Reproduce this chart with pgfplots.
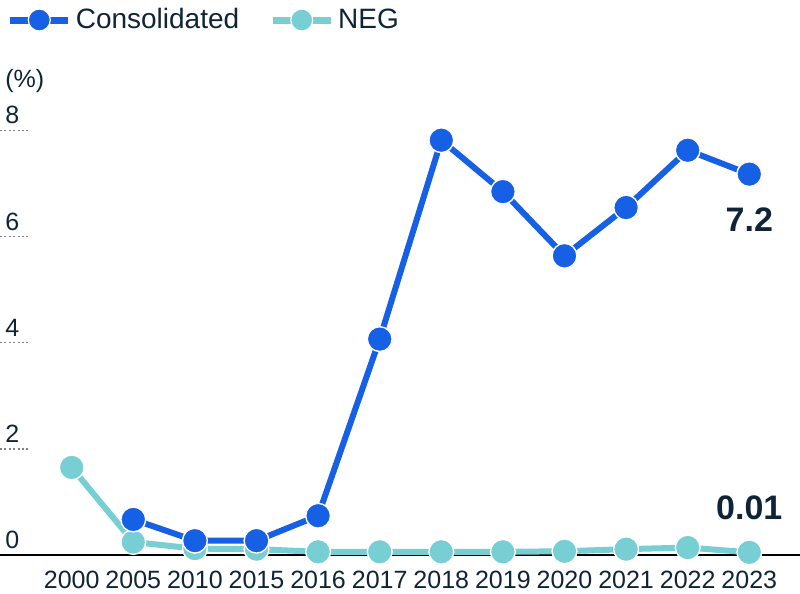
\documentclass[border=0pt]{standalone}
\usepackage{pgfplots}
\pgfplotsset{compat=1.18}
\usepackage{fontspec}
\setmainfont{Liberation Sans}
\definecolor{cblue}{HTML}{1660E5}
\definecolor{cteal}{HTML}{77CED3}
\definecolor{ctext}{HTML}{0F2537}
\begin{document}
\begin{tikzpicture}
\useasboundingbox (0pt,-19.5pt) rectangle (400pt,277.5pt);
\begin{axis}[
  at={(0pt,0pt)}, anchor=south west,
  scale only axis, width=400pt, height=228.1pt,
  xmin=-1.164, xmax=11.823, ymin=0, ymax=8.6,
  clip=false,
  axis x line=bottom, axis y line=left,
  x axis line style={-, black, line width=1.3pt},
  y axis line style={draw=none},
  xtick={0,...,11},
  xticklabels={2000,2005,2010,2015,2016,2017,2018,2019,2020,2021,2022,2023},
  xtick style={draw=none},
  ytick={0,2,4,6,8},
  ytick style={draw=gray, line width=0.6pt, dash pattern=on 1pt off 1.2pt},
  major tick length=14pt, tick align=inside,
  yticklabel style={anchor=south west, inner sep=0pt, xshift=2.5pt, yshift=3pt, font=\fontsize{12.5}{14}\selectfont, text=ctext},
  xticklabel style={font=\fontsize{12.5}{14}\selectfont, text=ctext, yshift=-4.5pt},
  /pgf/number format/assume math mode=true,
  legend columns=2,
  legend style={at={(0.008,1.1727)}, anchor=west, draw=none, fill=none, inner sep=0pt,
    font=\fontsize{14}{16}\selectfont, text=ctext,
    /tikz/every even column/.append style={column sep=13pt}},
  legend cell align=left,
  legend image code/.code={\draw[mark repeat=2,mark phase=2,#1] plot coordinates {(0pt,0pt) (14.5pt,0pt) (29pt,0pt)};},
]
\addlegendimage{cblue, line width=3.5pt, mark=*, mark size=5.5pt, mark options={fill=cblue, draw=white, line width=0.6pt}}
\addlegendentry{Consolidated}
\addlegendimage{cteal, line width=3.5pt, mark=*, mark size=5.5pt, mark options={fill=cteal, draw=white, line width=0.6pt}}
\addlegendentry{NEG}
\addplot[forget plot, cteal, line width=3pt, mark=*, mark size=6.2pt, mark options={fill=cteal, draw=white, line width=0.7pt}]
coordinates {(0,1.65) (1,0.245) (2,0.12) (3,0.11) (4,0.06) (5,0.06) (6,0.06) (7,0.06) (8,0.07) (9,0.11) (10,0.14) (11,0.05)};
\addplot[forget plot, cblue, line width=3pt, mark=*, mark size=6.2pt, mark options={fill=cblue, draw=white, line width=0.7pt}]
coordinates {(1,0.67) (2,0.27) (3,0.27) (4,0.74) (5,4.07) (6,7.82) (7,6.85) (8,5.64) (9,6.55) (10,7.63) (11,7.18)};
\node[anchor=base, inner sep=0pt, text=ctext, font=\bfseries\fontsize{17}{19}\selectfont] at (axis cs:11,6.09) {7.2};
\node[anchor=base, inner sep=0pt, text=ctext, font=\bfseries\fontsize{17}{19}\selectfont] at (axis cs:11,0.66) {0.01};
\node[anchor=base west, inner sep=0pt, text=ctext, font=\fontsize{12.5}{14}\selectfont] at (axis cs:-1.085,8.82) {(\%)};
\end{axis}
\end{tikzpicture}
\end{document}
